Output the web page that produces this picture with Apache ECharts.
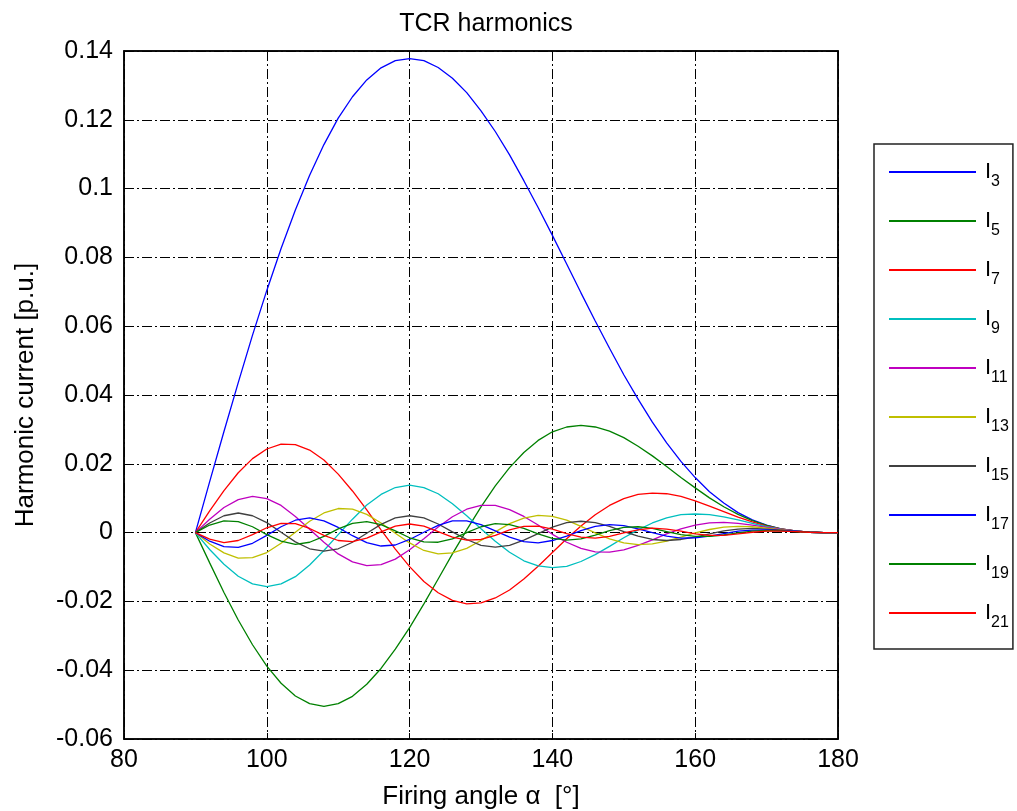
<!DOCTYPE html>
<html>
<head>
<meta charset="utf-8">
<script src="https://cdn.jsdelivr.net/npm/echarts@6/dist/echarts.min.js"></script>
<style>
html,body{margin:0;padding:0;background:#fff;}
#chart{width:1017px;height:811px;}
</style>
</head>
<body>
<div id="chart"></div>
<script>
// Firing angle alpha [deg]
var alpha = [90,92,94,96,98,100,102,104,106,108,110,112,114,116,118,120,122,124,126,128,130,132,134,136,138,140,142,144,146,148,150,152,154,156,158,160,162,164,166,168,170,172,174,176,178,180];

var I3 = [0, 0.0148, 0.0294, 0.0436, 0.0574, 0.0704, 0.0826, 0.0938, 0.1039, 0.1128, 0.1205, 0.1267, 0.1316, 0.1351, 0.1372, 0.1378, 0.1372, 0.1352, 0.1321, 0.1279, 0.1226, 0.1166, 0.1098, 0.1023, 0.0945, 0.0864, 0.0781, 0.0697, 0.0615, 0.0536, 0.0459, 0.0388, 0.0321, 0.0261, 0.0207, 0.0160, 0.0119, 0.0086, 0.0058, 0.0037, 0.0022, 0.0011, 0.0005, 0.0001, 0.0000, 0];
var I5 = [0, -0.0088, -0.0174, -0.0254, -0.0326, -0.0388, -0.0438, -0.0475, -0.0497, -0.0505, -0.0497, -0.0476, -0.0441, -0.0395, -0.0339, -0.0276, -0.0207, -0.0135, -0.0062, 0.0008, 0.0075, 0.0136, 0.0189, 0.0233, 0.0268, 0.0293, 0.0307, 0.0312, 0.0307, 0.0295, 0.0276, 0.0251, 0.0223, 0.0192, 0.0160, 0.0130, 0.0101, 0.0075, 0.0053, 0.0035, 0.0021, 0.0011, 0.0005, 0.0001, 0.0000, 0];
var I7 = [0, 0.0063, 0.0122, 0.0174, 0.0215, 0.0243, 0.0257, 0.0256, 0.0240, 0.0211, 0.0170, 0.0121, 0.0066, 0.0008, -0.0048, -0.0099, -0.0142, -0.0175, -0.0197, -0.0207, -0.0204, -0.0190, -0.0167, -0.0135, -0.0098, -0.0058, -0.0018, 0.0019, 0.0052, 0.0079, 0.0099, 0.0111, 0.0115, 0.0113, 0.0105, 0.0092, 0.0077, 0.0061, 0.0045, 0.0031, 0.0019, 0.0011, 0.0005, 0.0001, 0.0000, 0];
var I9 = [0, -0.0049, -0.0092, -0.0127, -0.0149, -0.0157, -0.0149, -0.0128, -0.0094, -0.0052, -0.0006, 0.0039, 0.0080, 0.0111, 0.0131, 0.0138, 0.0131, 0.0113, 0.0084, 0.0049, 0.0011, -0.0025, -0.0057, -0.0082, -0.0097, -0.0102, -0.0098, -0.0084, -0.0064, -0.0040, -0.0015, 0.0008, 0.0028, 0.0043, 0.0052, 0.0054, 0.0052, 0.0046, 0.0037, 0.0027, 0.0017, 0.0010, 0.0004, 0.0001, 0.0000, 0];
var I11 = [0, 0.0039, 0.0073, 0.0096, 0.0105, 0.0099, 0.0079, 0.0047, 0.0010, -0.0028, -0.0062, -0.0085, -0.0096, -0.0093, -0.0077, -0.0050, -0.0018, 0.0016, 0.0046, 0.0068, 0.0079, 0.0079, 0.0067, 0.0047, 0.0022, -0.0005, -0.0028, -0.0046, -0.0056, -0.0057, -0.0050, -0.0037, -0.0021, -0.0004, 0.0011, 0.0022, 0.0028, 0.0030, 0.0027, 0.0022, 0.0015, 0.0009, 0.0004, 0.0001, 0.0000, 0];
var I13 = [0, -0.0033, -0.0059, -0.0074, -0.0073, -0.0058, -0.0031, 0.0001, 0.0033, 0.0057, 0.0070, 0.0068, 0.0053, 0.0028, -0.0002, -0.0030, -0.0052, -0.0062, -0.0059, -0.0046, -0.0023, 0.0002, 0.0026, 0.0042, 0.0050, 0.0047, 0.0036, 0.0018, -0.0001, -0.0018, -0.0030, -0.0035, -0.0033, -0.0025, -0.0013, -0.0001, 0.0009, 0.0016, 0.0018, 0.0017, 0.0013, 0.0008, 0.0004, 0.0001, 0.0000, 0];
var I15 = [0, 0.0028, 0.0049, 0.0057, 0.0049, 0.0029, 0.0001, -0.0027, -0.0047, -0.0054, -0.0047, -0.0028, -0.0002, 0.0024, 0.0043, 0.0049, 0.0043, 0.0025, 0.0002, -0.0020, -0.0037, -0.0042, -0.0037, -0.0022, -0.0003, 0.0016, 0.0029, 0.0033, 0.0029, 0.0018, 0.0003, -0.0010, -0.0020, -0.0023, -0.0020, -0.0013, -0.0004, 0.0005, 0.0010, 0.0012, 0.0010, 0.0007, 0.0004, 0.0001, 0.0000, 0];
var I17 = [0, -0.0025, -0.0041, -0.0043, -0.0031, -0.0008, 0.0017, 0.0036, 0.0043, 0.0034, 0.0015, -0.0009, -0.0029, -0.0039, -0.0036, -0.0020, 0.0001, 0.0021, 0.0034, 0.0034, 0.0023, 0.0005, -0.0013, -0.0026, -0.0030, -0.0023, -0.0010, 0.0006, 0.0018, 0.0023, 0.0020, 0.0011, 0.0000, -0.0010, -0.0016, -0.0015, -0.0010, -0.0003, 0.0004, 0.0007, 0.0008, 0.0006, 0.0004, 0.0001, 0.0000, 0];
var I19 = [0, 0.0022, 0.0034, 0.0032, 0.0017, -0.0006, -0.0025, -0.0034, -0.0028, -0.0011, 0.0011, 0.0027, 0.0032, 0.0023, 0.0005, -0.0015, -0.0027, -0.0028, -0.0018, 0.0000, 0.0017, 0.0026, 0.0023, 0.0012, -0.0004, -0.0017, -0.0022, -0.0018, -0.0007, 0.0006, 0.0015, 0.0017, 0.0012, 0.0003, -0.0006, -0.0011, -0.0011, -0.0007, -0.0001, 0.0004, 0.0006, 0.0005, 0.0003, 0.0001, 0.0000, 0];
var I21 = [0, -0.0019, -0.0029, -0.0023, -0.0006, 0.0014, 0.0027, 0.0026, 0.0012, -0.0008, -0.0023, -0.0026, -0.0016, 0.0002, 0.0019, 0.0025, 0.0019, 0.0003, -0.0013, -0.0022, -0.0020, -0.0008, 0.0008, 0.0018, 0.0019, 0.0010, -0.0003, -0.0013, -0.0016, -0.0011, -0.0001, 0.0008, 0.0013, 0.0010, 0.0004, -0.0004, -0.0008, -0.0008, -0.0004, 0.0001, 0.0004, 0.0004, 0.0003, 0.0001, 0.0000, 0];

var seriesNames = ['I3','I5','I7','I9','I11','I13','I15','I17','I19','I21'];
var seriesValues = [I3, I5, I7, I9, I11, I13, I15, I17, I19, I21];
var seriesColors = ['#0000ff','#008000','#ff0000','#00bfbf','#bf00bf','#bfbf00','#404040','#0000ff','#008000','#ff0000'];

var FONT = '"Liberation Sans", Arial, Helvetica, sans-serif';
var gridLine = {show: true, lineStyle: {color: '#000', width: 1, type: [10, 3, 2, 3]}};

var chart = echarts.init(document.getElementById('chart'), null, {renderer: 'canvas'});

var series = seriesNames.map(function (name, i) {
  return {
    name: name,
    type: 'line',
    xAxisIndex: 0,
    yAxisIndex: 0,
    symbol: 'none',
    showSymbol: false,
    smooth: false,
    animation: false,
    lineStyle: {color: seriesColors[i], width: 1.3},
    itemStyle: {color: seriesColors[i]},
    data: alpha.map(function (a, j) { return [a, seriesValues[i][j]]; })
  };
});

chart.setOption({
  backgroundColor: '#ffffff',
  animation: false,
  textStyle: {fontFamily: FONT},
  title: {
    text: 'TCR harmonics',
    left: 481,
    top: 7,
    textAlign: 'center',
    textStyle: {fontFamily: FONT, fontSize: 25, fontWeight: 'normal', color: '#000'}
  },
  grid: {
    left: 124, right: 179, top: 51, bottom: 72,
    outerBoundsMode: 'none',
    containLabel: false,
    show: true, borderColor: '#000', borderWidth: 1.5, backgroundColor: '#fff'
  },
  legend: {
    orient: 'vertical',
    left: 874,
    top: 144,
    icon: 'rect',
    itemWidth: 87,
    itemHeight: 2,
    itemGap: 20,
    padding: [17, 4, 18, 15],
    borderColor: '#222',
    borderWidth: 1.5,
    backgroundColor: '#fff',
    data: seriesNames,
    formatter: function (name) { return '{i|I}{s|' + name.slice(1) + '}'; },
    textStyle: {
      fontFamily: FONT,
      color: '#000',
      rich: {
        i: {fontFamily: FONT, fontSize: 22, lineHeight: 36, verticalAlign: 'middle', padding: [0, 0, 0, 4], color: '#000'},
        s: {fontFamily: FONT, fontSize: 16, lineHeight: 6, verticalAlign: 'bottom', color: '#000'}
      }
    }
  },
  xAxis: [{
    type: 'value',
    min: 80, max: 180, interval: 20,
    position: 'bottom',
    name: 'Firing angle \u03b1  [\u00b0]',
    nameLocation: 'middle',
    nameGap: 45,
    nameTextStyle: {fontFamily: FONT, fontSize: 26, color: '#000'},
    axisLine: {show: true, onZero: false, lineStyle: {color: '#000', width: 1.5}},
    axisTick: {show: true, inside: true, length: 6, lineStyle: {color: '#000'}},
    axisLabel: {fontFamily: FONT, fontSize: 25, color: '#000', margin: 9},
    splitLine: gridLine
  }, {
    type: 'value',
    min: 80, max: 180, interval: 20,
    position: 'top',
    axisLine: {show: true, onZero: false, lineStyle: {color: '#000', width: 1.5}},
    axisTick: {show: true, inside: true, length: 6, lineStyle: {color: '#000'}},
    axisLabel: {show: false},
    splitLine: {show: false}
  }],
  yAxis: [{
    type: 'value',
    min: -0.06, max: 0.14, interval: 0.02,
    position: 'left',
    name: 'Harmonic current [p.u.]',
    nameLocation: 'middle',
    nameGap: 85,
    nameTextStyle: {fontFamily: FONT, fontSize: 26, color: '#000'},
    axisLine: {show: true, onZero: false, lineStyle: {color: '#000', width: 1.5}},
    axisTick: {show: true, inside: true, length: 6, lineStyle: {color: '#000'}},
    axisLabel: {fontFamily: FONT, fontSize: 25, color: '#000', margin: 11},
    splitLine: gridLine
  }, {
    type: 'value',
    min: -0.06, max: 0.14, interval: 0.02,
    position: 'right',
    axisLine: {show: true, onZero: false, lineStyle: {color: '#000', width: 1.5}},
    axisTick: {show: true, inside: true, length: 6, lineStyle: {color: '#000'}},
    axisLabel: {show: false},
    splitLine: {show: false}
  }],
  series: series
});
</script>
</body>
</html>
